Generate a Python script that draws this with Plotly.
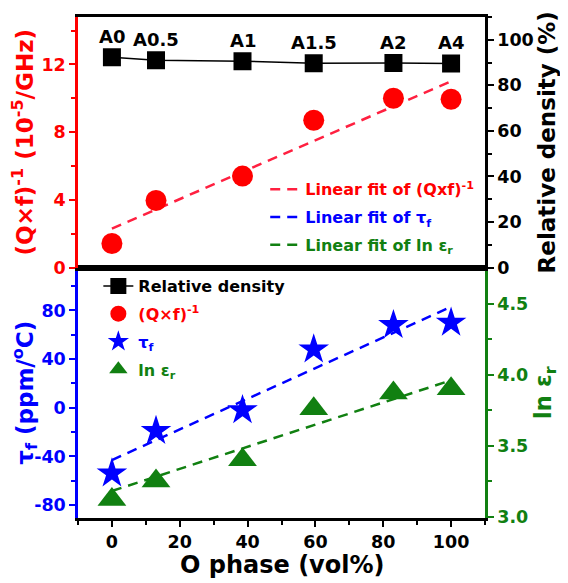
import plotly.graph_objects as go

# ---- data ----
o_phase = [0, 13, 38.5, 59.5, 83, 100]
sample_labels = ["A0", "A0.5", "A1", "A1.5", "A2", "A4"]
rel_density = [92.3, 91.0, 90.6, 89.7, 89.8, 89.6]
qxf_inv = [1.42, 3.96, 5.4, 8.7, 10.0, 9.94]
tau_f = [-54, -19, -2, 48, 68, 70]
ln_er = [3.12, 3.25, 3.40, 3.76, 3.87, 3.90]

fit_x = [0, 100]
fit_qxf = [2.3, 11.0]
fit_tau = [-43, 83]
fit_ln = [3.18, 3.96]

x_ticks = [0, 20, 40, 60, 80, 100]
qxf_ticks = [0, 4, 8, 12]
dens_ticks = [0, 20, 40, 60, 80, 100]
tau_ticks = [-80, -40, 0, 40, 80]
tau_ticktext = ["-80", "-40", "0", "40", "80"]
ln_ticks = [3.0, 3.5, 4.0, 4.5]

RED = "#FF0000"
FITRED = "#FF2040"
BLUE = "#0000FF"
GREEN = "#118011"
BLACK = "#000000"
FONT = "DejaVu Sans"

fig = go.Figure()

# fit lines (top legend)
fig.add_trace(go.Scatter(x=fit_x, y=fit_qxf, xaxis="x2", yaxis="y", mode="lines",
                         line=dict(color=FITRED, width=2.5, dash="10px,7px"),
                         name='<span style="color:#FF0000">Linear fit of (Qxf)<sup>-1</sup></span>',
                         legend="legend", legendgroup="f1"))
fig.add_trace(go.Scatter(x=fit_x, y=fit_tau, xaxis="x", yaxis="y3", mode="lines",
                         line=dict(color=BLUE, width=2.5, dash="10px,7px"),
                         name='<span style="color:#0000FF">Linear fit of τ<sub>f</sub></span>',
                         legend="legend", legendgroup="f2"))
fig.add_trace(go.Scatter(x=fit_x, y=fit_ln, xaxis="x", yaxis="y4", mode="lines",
                         line=dict(color=GREEN, width=2.5, dash="10px,7px"),
                         name='<span style="color:#118011">Linear fit of ln ε<sub>r</sub></span>',
                         legend="legend", legendgroup="f3"))

# data traces (bottom legend)
fig.add_trace(go.Scatter(x=o_phase, y=rel_density, xaxis="x2", yaxis="y2", mode="lines+markers",
                         line=dict(color=BLACK, width=1.5),
                         marker=dict(symbol="square", size=18, color=BLACK),
                         name="Relative density", legend="legend2", legendgroup="d1"))
fig.add_trace(go.Scatter(x=o_phase, y=qxf_inv, xaxis="x2", yaxis="y", mode="markers",
                         marker=dict(symbol="circle", size=21, color=RED),
                         name='<span style="color:#FF0000">(Q×f)<sup>-1</sup></span>',
                         legend="legend2", legendgroup="d2"))
fig.add_trace(go.Scatter(x=o_phase, y=tau_f, xaxis="x", yaxis="y3", mode="markers",
                         marker=dict(symbol="star", size=23, color=BLUE),
                         name='<span style="color:#0000FF">τ<sub>f</sub></span>',
                         legend="legend2", legendgroup="d3"))
fig.add_trace(go.Scatter(x=o_phase, y=ln_er, xaxis="x", yaxis="y4", mode="markers",
                         marker=dict(symbol="triangle-up", size=25, color=GREEN),
                         name='<span style="color:#118011">ln ε<sub>r</sub></span>',
                         legend="legend2", legendgroup="d4"))

# sample labels above the density squares
for xv, yv, lab in zip(o_phase, rel_density, sample_labels):
    fig.add_annotation(x=xv, y=yv, xref="x2", yref="y2", text=lab, showarrow=False,
                       yshift=21, font=dict(family=FONT, size=18, color=BLACK, weight="bold"))

# x-axis title
fig.add_annotation(x=0.5, y=0, xref="paper", yref="paper", text="O phase (vol%)", showarrow=False,
                   yanchor="top", yshift=-31,
                   font=dict(family=FONT, size=24, color=BLACK, weight="bold"))

tickfont = lambda c: dict(family=FONT, size=17.5, color=c, weight="bold")
titlefont = lambda c: dict(family=FONT, size=23, color=c, weight="bold")

def yax(color, rng, tickvals, minor_dtick, side="left", **kw):
    d = dict(range=rng, tickvals=tickvals, showline=True, linecolor=color, linewidth=2.5,
             ticks="outside", ticklen=6, tickwidth=2, tickcolor=color, automargin=False,
             minor=dict(ticks="outside", ticklen=4, tickwidth=2, tickcolor=color, dtick=minor_dtick),
             tickfont=tickfont(color), showgrid=False, zeroline=False, side=side)
    d.update(kw)
    return d

# the page body adds an 8px margin, so the figure is offset/sized to fit the window
fig.update_layout(
    width=552, height=575,
    margin=dict(l=70, r=75, t=9, b=65),
    paper_bgcolor="white", plot_bgcolor="white",
    xaxis=dict(domain=[0, 1], anchor="y3", range=[-10, 110], tickvals=x_ticks,
               showline=True, linecolor=BLACK, linewidth=2.5, mirror=True, automargin=False,
               ticks="outside", ticklen=6, tickwidth=2, tickcolor=BLACK,
               minor=dict(ticks="outside", ticklen=4, tickwidth=2, tickcolor=BLACK, dtick=10, tick0=0),
               tickfont=tickfont(BLACK), showgrid=False, zeroline=False),
    xaxis2=dict(domain=[0, 1], anchor="y", matches="x", showticklabels=False, ticks="",
                showline=True, linecolor=BLACK, linewidth=2.5, mirror=True, automargin=False,
                showgrid=False, zeroline=False),
    yaxis=yax(RED, [0, 14.8], qxf_ticks, 2, domain=[0.5, 1], anchor="x2",
              title=dict(text="(Q×f)<sup>-1</sup> (10<sup>-5</sup>/GHz)", font=titlefont(RED), standoff=7)),
    yaxis2=yax(BLACK, [0, 110], dens_ticks, 10, side="right", overlaying="y", anchor="x2",
               title=dict(text="Relative density (%)", font=titlefont(BLACK), standoff=5)),
    yaxis3=yax(BLUE, [-90.6, 115.3], tau_ticks, 20, domain=[0, 0.5], anchor="x",
               ticktext=tau_ticktext,
               title=dict(text="τ<sub>f</sub> (ppm/<sup>o</sup>C)", font=titlefont(BLUE), standoff=9)),
    yaxis4=yax(GREEN, [2.99, 4.755], ln_ticks, 0.25, side="right", overlaying="y3", anchor="x",
               tickformat=".1f",
               title=dict(text="ln ε<sub>r</sub>", font=titlefont(GREEN), standoff=15)),
    legend=dict(x=0.46, y=0.69, xanchor="left", yanchor="top", bgcolor="rgba(0,0,0,0)",
                font=dict(family=FONT, size=16, color=BLACK, weight="bold"), tracegroupgap=4),
    legend2=dict(x=0.05, y=0.497, xanchor="left", yanchor="top", bgcolor="rgba(0,0,0,0)",
                 font=dict(family=FONT, size=16, color=BLACK, weight="bold"), tracegroupgap=4),
    showlegend=True,
)

fig.write_html("out.html")
